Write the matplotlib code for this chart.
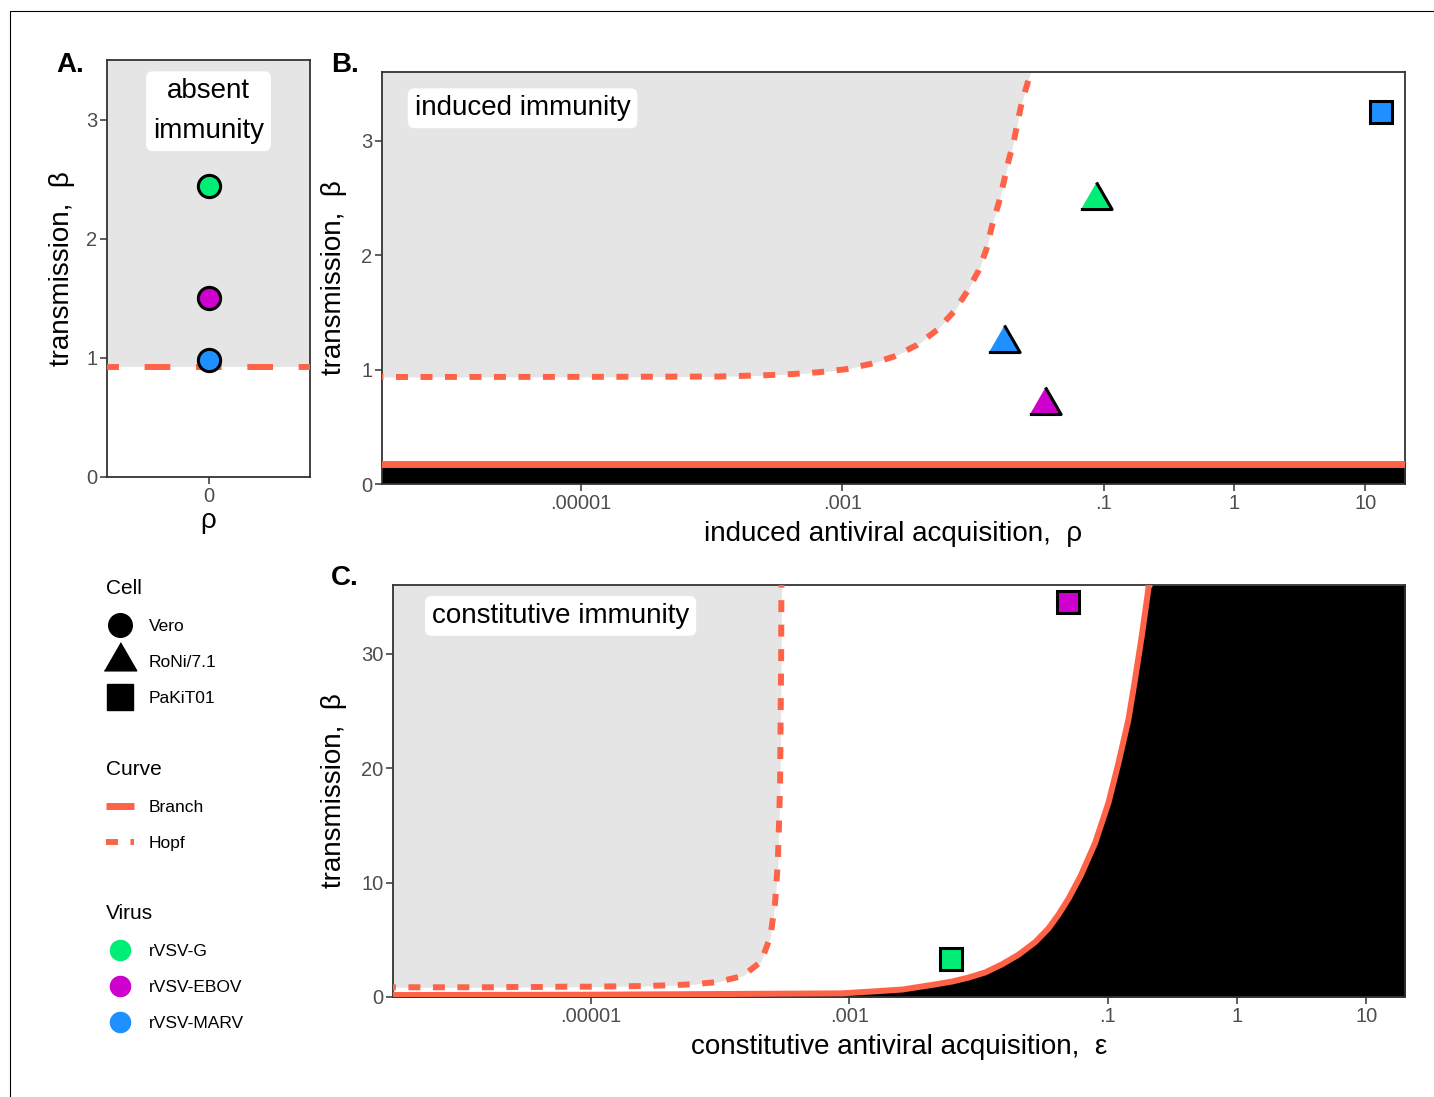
import numpy as np
import matplotlib
matplotlib.use('Agg')
import matplotlib.pyplot as plt
from matplotlib.lines import Line2D
from matplotlib.patches import Rectangle
from matplotlib.ticker import NullLocator

plt.rcParams['font.family'] = ['Liberation Sans', 'DejaVu Sans']

# ---- data ----
viruses = ['rVSV-G', 'rVSV-EBOV', 'rVSV-MARV']
cells = ['Vero', 'RoNi/7.1', 'PaKiT01']
curves = ['Branch', 'Hopf']

# A. absent immunity (Vero cells)
a_virus = ['rVSV-G', 'rVSV-EBOV', 'rVSV-MARV']
a_beta = [2.44, 1.50, 0.98]
a_hopf = 0.92

# B. induced immunity
b_cell = ['RoNi/7.1', 'RoNi/7.1', 'RoNi/7.1', 'PaKiT01']
b_virus = ['rVSV-G', 'rVSV-EBOV', 'rVSV-MARV', 'rVSV-MARV']
b_rho = [0.0869, 0.0359, 0.01726, 13.3]
b_beta = [2.48, 0.69, 1.23, 3.25]

b_hopf_logrho = [-6.60, -5.00, -3.952, -3.761, -3.570, -3.366, -3.176, -2.972,
                 -2.781, -2.603, -2.425, -2.273, -2.145, -2.044, -1.960, -1.898,
                 -1.847, -1.802, -1.763, -1.725, -1.687, -1.654, -1.624, -1.585,
                 -1.560, -1.520]
b_hopf_beta = [0.935, 0.936, 0.939, 0.945, 0.951, 0.962, 0.977, 1.003,
               1.050, 1.114, 1.216, 1.347, 1.507, 1.682, 1.857, 2.047,
               2.289, 2.456, 2.645, 2.835, 2.995, 3.185, 3.345, 3.491,
               3.600, 3.900]
b_branch_logrho = [-6.60, 1.40]
b_branch_beta = [0.175, 0.175]

# C. constitutive immunity
c_cell = ['PaKiT01', 'PaKiT01']
c_virus = ['rVSV-G', 'rVSV-EBOV']
c_eps = [0.00614, 0.0493]
c_beta = [3.32, 34.49]

c_hopf_logeps = [-6.60, -6.409, -6.202, -5.995, -5.788, -5.581, -5.401, -5.207,
                 -5.013, -4.806, -4.599, -4.405, -4.212, -4.018, -3.824, -3.682,
                 -3.610, -3.574, -3.553, -3.543, -3.535, -3.530, -3.527, -3.525,
                 -3.520]
c_hopf_beta = [0.85, 0.85, 0.85, 0.85, 0.85, 0.875, 0.875, 0.90,
               0.90, 0.93, 0.96, 1.02, 1.11, 1.31, 1.84, 3.09,
               5.28, 8.20, 11.70, 15.20, 18.70, 25.70, 29.20, 35.02,
               40.0]

c_branch_logeps = [-6.60, -5.00, -4.00, -3.054, -2.797, -2.591, -2.334, -2.205,
                   -2.076, -1.947, -1.819, -1.690, -1.561, -1.458, -1.381, -1.303,
                   -1.209, -1.098, -0.995, -0.917, -0.840, -0.789, -0.737, -0.686,
                   -0.650, 1.40]
c_branch_beta = [0.17, 0.20, 0.26, 0.32, 0.50, 0.65, 1.10, 1.35,
                 1.70, 2.15, 2.85, 3.70, 4.80, 6.00, 7.20, 8.60,
                 10.60, 13.45, 16.95, 20.45, 24.23, 27.73, 31.52, 35.61,
                 40.0, 40.0]

log_ticks = [1e-5, 1e-3, 1e-1, 1, 10]
log_ticklabels = ['.00001', '.001', '.1', '1', '10']

# ---- styling ----
virus_colors = {'rVSV-G': '#00EE76', 'rVSV-EBOV': '#CD00CD', 'rVSV-MARV': '#1E90FF'}
TRI = [(-1.0, -0.577), (1.0, -0.577), (0.0, 1.155)]
cell_markers = {'Vero': 'o', 'RoNi/7.1': TRI, 'PaKiT01': 's'}
cell_sizes = {'Vero': 16, 'RoNi/7.1': 26, 'PaKiT01': 16.5}
TOMATO = '#FF6347'
GREY = '#E5E5E5'
LW = 4.3
HOPF_DASH = (2.0, 2.1)

W, H = 1434, 1097
fig = plt.figure(figsize=(W / 100, H / 100), dpi=100)


def px_axes(left, top, right, bottom):
    return fig.add_axes([left / W, 1 - bottom / H, (right - left) / W, (bottom - top) / H])


def style(ax):
    for sp in ax.spines.values():
        sp.set_color('#333333')
        sp.set_linewidth(1.3)
    ax.tick_params(labelsize=14.5, labelcolor='#4D4D4D', color='#333333',
                   length=5, width=1.1, pad=2)


def points(ax, xs, ys, cell_list, virus_list):
    for x, y, c, v in zip(xs, ys, cell_list, virus_list):
        ax.plot([x], [y], linestyle='none', marker=cell_markers[c],
                markersize=cell_sizes[c], markerfacecolor=virus_colors[v],
                markeredgecolor='black', markeredgewidth=2.2, zorder=6, clip_on=False)


box = dict(boxstyle='round,pad=0.25,rounding_size=0.25', fc='white', ec='none')

# ---- A ----
axA = px_axes(107, 60, 310, 477)
axA.set_xlim(-0.5, 0.5)
axA.set_ylim(0, 3.5)
axA.axhspan(a_hopf, 3.5, color=GREY, lw=0, zorder=0)
axA.plot([-0.5, 0.5], [a_hopf, a_hopf], color=TOMATO, lw=LW,
         linestyle=(2.3, (4.3, 4.3)), solid_capstyle='butt', zorder=3)
points(axA, [0] * len(a_beta), a_beta, ['Vero'] * len(a_beta), a_virus)
axA.set_xticks([0])
axA.set_xticklabels(['0'])
axA.set_yticks([0, 1, 2, 3])
axA.set_xlabel('ρ', fontsize=20, labelpad=2)
axA.set_ylabel('transmission,  β', fontsize=20, labelpad=8)
axA.text(0, 3.07, 'absent\nimmunity', ha='center', va='center', fontsize=20,
         linespacing=1.7, bbox=box, zorder=7)
style(axA)

# ---- B ----
axB = px_axes(382, 72, 1405, 484)
b_top = 3.6
xb = 10 ** np.array(b_hopf_logrho)
hb = np.array(b_hopf_beta)
axB.fill_between(xb, np.minimum(hb, b_top), b_top, color=GREY, lw=0, zorder=0)
xbb = 10 ** np.array(b_branch_logrho)
axB.fill_between(xbb, 0, b_branch_beta, color='black', lw=0, zorder=1)
axB.plot(xbb, b_branch_beta, color=TOMATO, lw=5, solid_capstyle='butt', zorder=3)
axB.plot(xb, hb, color=TOMATO, lw=LW, dashes=HOPF_DASH, zorder=3)
points(axB, b_rho, b_beta, b_cell, b_virus)
axB.set_xscale('log')
axB.set_xlim(10 ** -6.52, 10 ** 1.305)
axB.set_ylim(0, b_top)
axB.set_xticks(log_ticks)
axB.set_xticklabels(log_ticklabels)
axB.xaxis.set_minor_locator(NullLocator())
axB.set_yticks([0, 1, 2, 3])
axB.set_xlabel('induced antiviral acquisition,  ρ', fontsize=20, labelpad=6)
axB.set_ylabel('transmission,  β', fontsize=20, labelpad=10)
axB.text(0.032, 0.912, 'induced immunity', transform=axB.transAxes, ha='left',
         va='center', fontsize=20, bbox=box, zorder=7)
style(axB)

# ---- C ----
axC = px_axes(393, 585, 1405, 997)
c_top = 36
xc = 10 ** np.array(c_hopf_logeps)
hc = np.array(c_hopf_beta)
axC.fill_between(xc, np.minimum(hc, c_top), c_top, color=GREY, lw=0, zorder=0)
xcb = 10 ** np.array(c_branch_logeps)
bc = np.array(c_branch_beta)
axC.fill_between(xcb, 0, np.minimum(bc, c_top), color='black', lw=0, zorder=1)
axC.plot(xcb, bc, color=TOMATO, lw=LW, zorder=3)
axC.plot(xc, hc, color=TOMATO, lw=LW, dashes=HOPF_DASH, zorder=3)
points(axC, c_eps, c_beta, c_cell, c_virus)
axC.set_xscale('log')
axC.set_xlim(10 ** -6.53, 10 ** 1.3)
axC.set_ylim(0, c_top)
axC.set_xticks(log_ticks)
axC.set_xticklabels(log_ticklabels)
axC.xaxis.set_minor_locator(NullLocator())
axC.set_yticks([0, 10, 20, 30])
axC.set_xlabel('constitutive antiviral acquisition,  ε', fontsize=20, labelpad=6)
axC.set_ylabel('transmission,  β', fontsize=20, labelpad=10)
axC.text(0.0385, 0.925, 'constitutive immunity', transform=axC.transAxes, ha='left',
         va='center', fontsize=20, bbox=box, zorder=7)
style(axC)

# ---- panel letters ----
for lab, x, y in [('A.', 56, 65), ('B.', 331, 65), ('C.', 331, 578)]:
    fig.text(x / W, 1 - y / H, lab, fontsize=20, fontweight='bold', ha='left', va='center')

# ---- legends ----
leg_kw = dict(frameon=False, loc='upper left', fontsize=12.5, title_fontsize=15,
              alignment='left', handlelength=1.6, handletextpad=0.85,
              labelspacing=1.2, borderpad=0, borderaxespad=0)

cell_handles = [Line2D([], [], linestyle='none', marker=cell_markers[c], color='black',
                       markersize={'Vero': 17, 'RoNi/7.1': 27, 'PaKiT01': 19}[c])
                for c in cells]
fig.legend(cell_handles, cells, title='Cell', bbox_to_anchor=(106 / W, 1 - 579 / H), **leg_kw)

curve_handles = [Line2D([], [], color=TOMATO, lw=5, solid_capstyle='butt'),
                 Line2D([], [], color=TOMATO, lw=LW, dashes=HOPF_DASH)]
fig.legend(curve_handles, curves, title='Curve', bbox_to_anchor=(106 / W, 1 - 760 / H), **leg_kw)

virus_handles = [Line2D([], [], linestyle='none', marker='o', color=virus_colors[v],
                        markersize=14.5) for v in viruses]
fig.legend(virus_handles, viruses, title='Virus', bbox_to_anchor=(106 / W, 1 - 904 / H), **leg_kw)

# page frame (cropped)
fig.add_artist(Rectangle((10 / W, -0.5), 2, 1.5 - 11 / H, transform=fig.transFigure,
                         fill=False, ec='black', lw=0.8))

fig.savefig('out.png', dpi=100)
